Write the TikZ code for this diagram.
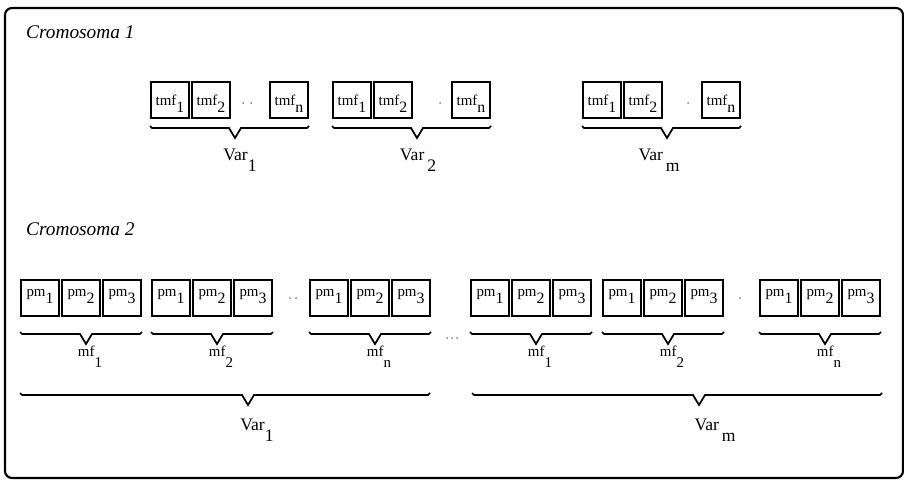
\documentclass[tikz,border=0pt]{standalone}
\usepackage{fontspec}
\setmainfont{Liberation Serif}
\newcommand{\cellsub}[1]{\raisebox{-4pt}{\fontsize{9}{9}\selectfont #1}}
\newcommand{\labsub}[1]{\raisebox{-6.5pt}{#1}}
\begin{document}
\begin{tikzpicture}[x=0.02cm,y=-0.02cm,
  cell/.style={draw,line width=1.1pt,minimum width=0.76cm,minimum height=0.72cm,inner sep=0pt,font=\fontsize{8.5}{9}\selectfont},
  low cell/.style={cell,text height=6pt,text depth=0pt},
  high cell/.style={cell,text height=5pt,text depth=7pt},
  brace/.style={line width=1pt,line join=miter},
  tag/.style={anchor=base,font=\fontsize{10}{12}\selectfont},
  small tag/.style={anchor=base,font=\fontsize{8.5}{10}\selectfont},
  title/.style={anchor=base west,font=\fontsize{11}{13}\selectfont\itshape}]
\useasboundingbox (0,0) rectangle (904,480);
\draw  [line  width=1.2pt,rounded  corners=4pt]  (5,8)  rectangle  (903,478);

\node[title] (c1) at (20,38) {Cromosoma 1};
\node[title] (c2) at (20,235) {Cromosoma 2};

% Cromosoma 1
\foreach \g/\x in {1/170,2/352,3/602}{
  \node[low cell] (t\g a) at (\x,100) {tmf\cellsub{1}};
  \node[low cell] (t\g b) at (\x+41,100) {tmf\cellsub{2}};
  \node[low cell] (t\g n) at (\x+119,100) {tmf\cellsub{n}};
  \draw  [brace]  (\x-20,126)  --  ++(2,2)  --  (\x+59,128)  --  ++(6,10)  --  ++(6,-10)  --  (\x+137,128)  --  ++(2,-2);
}
\node[tag] (v1) at (240,160) {Var\labsub{1}};
\node[tag] (v2) at (418,160) {Var\,\labsub{2}};
\node[tag] (vm) at (659,160) {Var\,\labsub{m}};
\fill  [gray]  (243,103)  circle  (1)  (251,103)  circle  (1);
\fill  [gray]  (440,103)  circle  (1);
\fill  [gray]  (688,103)  circle  (1);

% Cromosoma 2
\foreach \g/\x/\s in {1/40/1,2/171/2,3/329/n,4/490/1,5/622/2,6/779/n}{
  \node[high cell] (p\g a) at (\x,298) {pm\cellsub{1}};
  \node[high cell] (p\g b) at (\x+41,298) {pm\cellsub{2}};
  \node[high cell] (p\g c) at (\x+82,298) {pm\cellsub{3}};
  \draw  [brace]  (\x-20,332)  --  ++(2,2)  --  (\x+40,334)  --  ++(6,10)  --  ++(6,-10)  --  (\x+100,334)  --  ++(2,-2);
  \node[small tag] (m\g) at (\x+50,356) {mf\labsub{\s}};
}
\draw  [brace]  (20,393)  --  ++(2,2)  --  (242,395)  --  ++(6,10)  --  ++(6,-10)  --  (428,395)  --  ++(2,-2);
\draw  [brace]  (472,393)  --  ++(2,2)  --  (693,395)  --  ++(6,10)  --  ++(6,-10)  --  (880,395)  --  ++(2,-2);
\node[tag] (w1) at (257,430) {Var\labsub{1}};
\node[tag] (wm) at (715,430) {Var\,\labsub{m}};
\fill  [gray]  (290,298)  circle  (1)  (296,298)  circle  (1);
\fill  [gray]  (447,338)  circle  (1)  (452,338)  circle  (1)  (457,338)  circle  (1);
\fill  [gray]  (740,298)  circle  (1);

\end{tikzpicture}
\end{document}
